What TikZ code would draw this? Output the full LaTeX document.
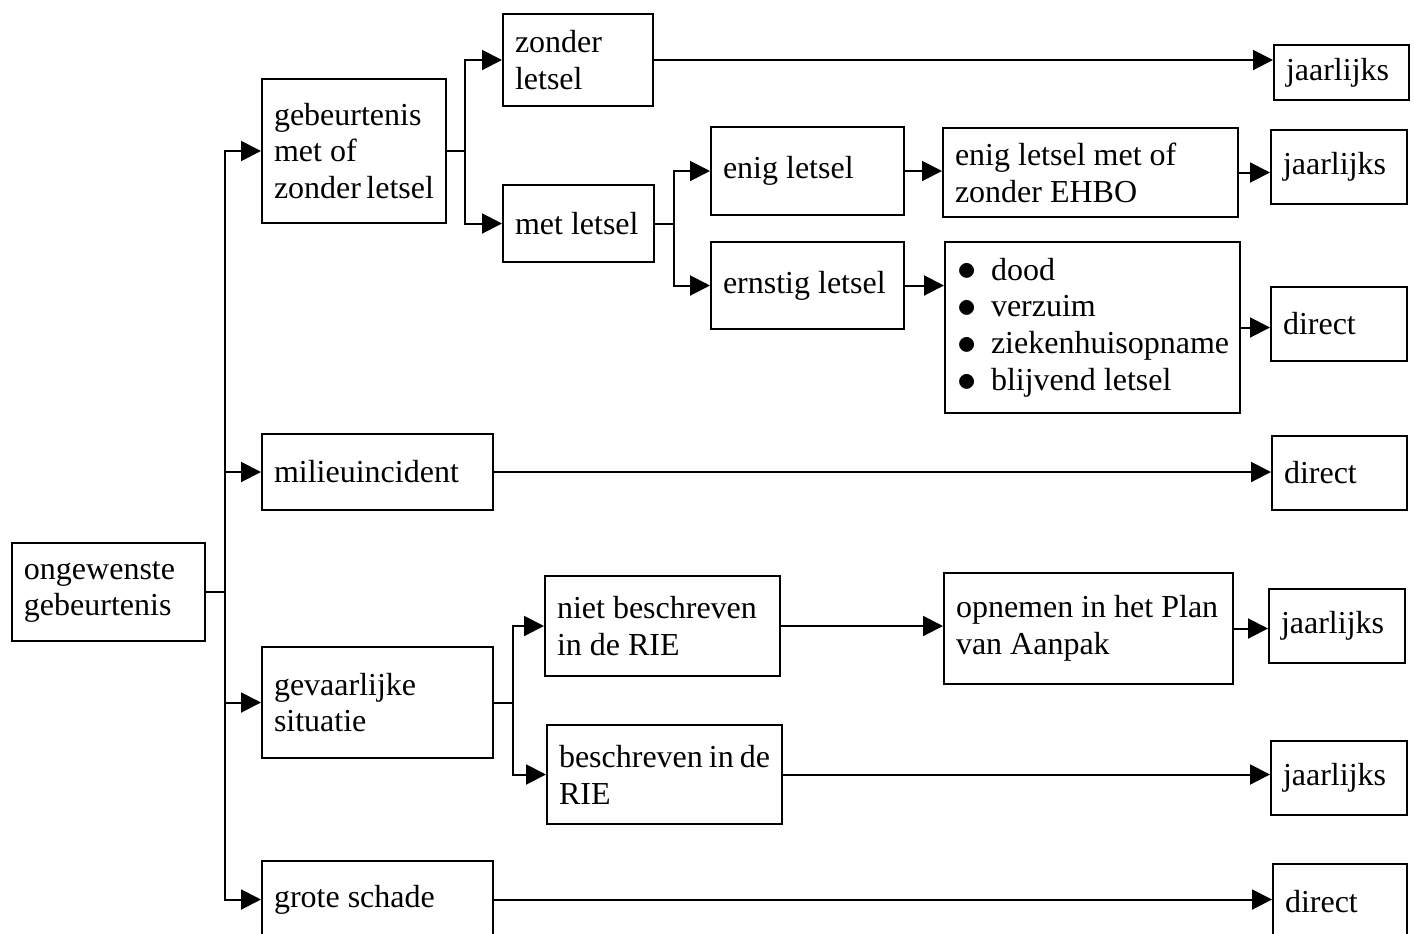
\documentclass[tikz,border=0pt]{standalone}
\usepackage{graphicx}
\usepackage{fontspec}
\setmainfont{Liberation Serif}
\usetikzlibrary{arrows.meta}
\hyphenpenalty=10000
\exhyphenpenalty=10000

\tikzset{every picture/.style={line width=0.75pt}}
\tikzset{
  box/.style 2 args={draw, anchor=north west, inner xsep=4.5pt, inner ysep=0pt,
    text width=#1*0.375pt-9pt, minimum height=#2*0.375pt,
    font=\fontsize{12}{13.8}\selectfont,
    execute at begin node={\spaceskip=0pt\xspaceskip=0pt\relax}},
  arr/.style={-{Triangle[length=7.5pt,width=7.5pt]}},
}
\newcommand{\itembul}{\makebox[12.75pt][l]{\raisebox{-0.3pt}{\scalebox{1.2}{$\bullet$}}}}

\begin{document}
\begin{tikzpicture}[x=0.375pt,y=0.375pt,yscale=-1,xscale=1]
\useasboundingbox (0,0) rectangle (1414,933);

% Text Node
\node[box={193}{98}] (oge) at (11,542) {ongewenste\\gebeurtenis};
% Text Node
\node[box={184}{144}] (gml) at (261,78) {gebeurtenis\\met~of\\zonder~letsel};
\node[box={231}{76}] (mil) at (261,433) {milieuincident};
\node[box={231}{111}] (gev) at (261,646) {gevaarlijke\\situatie};
\node[box={231}{77}] (gs) at (261,860) {grote~schade};
% Text Node
\node[box={150}{92}] (zl) at (502,13) {zonder\\letsel};
\node[box={151}{77}] (ml) at (502,184) {met~letsel};
\node[box={193}{88}] (el) at (710,126) {enig~letsel};
\node[box={193}{87}] (erl) at (710,241) {ernstig~letsel};
\node[box={295}{89}] (ehbo) at (942,127) {enig~letsel~met~of\\zonder~EHBO};
\node[box={295}{171}] (gev1) at (944,241) {\itembul dood\\\itembul verzuim\\\itembul ziekenhuisopname\\\itembul blijvend~letsel};
% Text Node
\node[box={235}{100}] (nbr) at (544,575) {niet~beschreven\\in~de~RIE};
\node[box={235}{99}] (br) at (546,724) {beschreven~in~de\\RIE};
\node[box={289}{111}] (opn) at (943,572) {opnemen~in~het~Plan\\van~Aanpak};
% Text Node
\node[box={135}{55}] (j1) at (1273,44) {jaarlijks};
\node[box={136}{74}] (j2) at (1270,129) {jaarlijks};
\node[box={136}{74}] (d1) at (1270,286) {direct};
\node[box={135}{74}] (d2) at (1271,435) {direct};
\node[box={136}{74}] (j3) at (1268,588) {jaarlijks};
\node[box={136}{74}] (j4) at (1270,740) {jaarlijks};
\node[box={134}{76}] (d3) at (1272,863) {direct};

%Straight Lines
\draw (oge.east) -- ++(19,0) coordinate (t0);
\draw[arr] (t0) |- (gml.west);
\draw[arr] (t0) |- (mil.west);
\draw[arr] (t0) |- (gev.west);
\draw[arr] (t0) |- (gs.west);
%Straight Lines
\draw (gml.east) -- ++(18,0) coordinate (t1);
\draw[arr] (t1) |- (zl.west);
\draw[arr] (t1) |- (ml.west);
\draw (ml.east) -- ++(19,0) coordinate (t2);
\draw[arr] (t2) |- (el.west);
\draw[arr] (t2) |- (erl.west);
\draw (gev.east) -- ++(19,0) coordinate (t3);
\draw[arr] (t3) |- (nbr.west);
\draw[arr] (t3) |- (br.west);
%Straight Lines
\draw[arr] (zl.east) -- (zl.east -| j1.west);
\draw[arr] (el.east) -- (el.east -| ehbo.west);
\draw[arr] (ehbo.east) -- (ehbo.east -| j2.west);
\draw[arr] (erl.east) -- (erl.east -| gev1.west);
\draw[arr] (gev1.east) -- (gev1.east -| d1.west);
\draw[arr] (mil.east) -- (mil.east -| d2.west);
\draw[arr] (nbr.east) -- (nbr.east -| opn.west);
\draw[arr] (opn.east) -- (opn.east -| j3.west);
\draw[arr] (br.east) -- (br.east -| j4.west);
\draw[arr] (gs.east) -- (gs.east -| d3.west);

\end{tikzpicture}
\end{document}
